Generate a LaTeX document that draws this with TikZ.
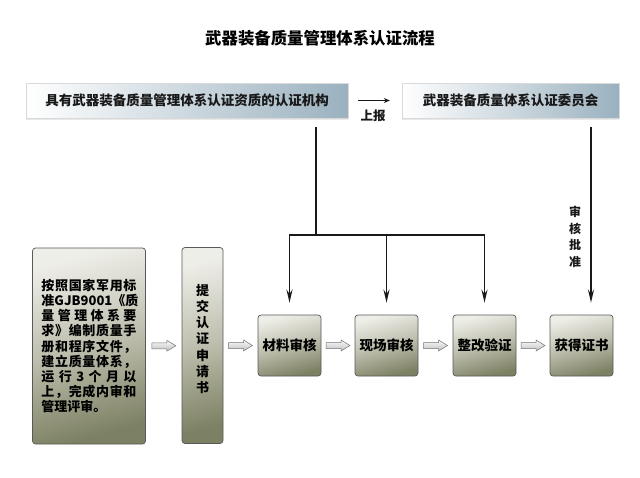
\documentclass[tikz,border=0pt]{standalone}
\usepackage{fontspec}
\setmainfont{Noto Sans CJK SC}
\usetikzlibrary{arrows.meta,calc,shadows}

\definecolor{steel}{HTML}{9AB1BF}
\definecolor{olivelight}{HTML}{EEEEE8}
\definecolor{olivemid}{HTML}{BDBEAD}
\definecolor{olivedark}{HTML}{7D8163}

\tikzset{
  topbox/.style={rectangle, left color=white, right color=steel, draw=gray!30, line width=0.4pt,
    minimum height=35pt, inner sep=0pt, font=\bfseries\fontsize{13.5}{16}\selectfont, text=black!90,
    drop shadow={opacity=0.18, shadow xshift=0pt, shadow yshift=-2pt}},
  stagebox/.style={rectangle, rounded corners=3pt, draw=black!65, line width=0.7pt,
    top color=olivelight, bottom color=olivedark, middle color=olivemid, shading angle=15, inner sep=0pt,
    font=\bfseries\fontsize{13.5}{15}\selectfont, text=black},
  fatpath/.style={draw=black!55, line width=0.5pt, top color=gray!3, bottom color=gray!50},
  conn/.style={line width=1.8pt, draw=black!90},
  arr/.style={conn, -{Stealth[length=13pt, width=6pt]}},
  lbl/.style={font=\bfseries\fontsize{12.5}{16.5}\selectfont, text=black!90, inner sep=0pt, align=center},
}
\newcommand\fatarrowat[1]{%
  \path[fatpath] ($(#1)+(-12,-3)$) -- ($(#1)+(3,-3)$) -- ($(#1)+(3,-5.5)$) -- ($(#1)+(12,0)$)
    -- ($(#1)+(3,5.5)$) -- ($(#1)+(3,3)$) -- ($(#1)+(-12,3)$) -- cycle;}

\begin{document}
\begin{tikzpicture}[x=1pt, y=-1pt]
\useasboundingbox[fill=white] (0,0) rectangle (640,477);

% title
\node[font=\bfseries\fontsize{16.4}{18}\selectfont, text=black] (title) at (320,38) {武器装备质量管理体系认证流程};

% top boxes
\node[topbox, minimum width=322pt] (topL) at (187,100.5) {具有武器装备质量管理体系认证资质的认证机构};
\node[topbox, minimum width=217pt] (topR) at (510.5,100.5) {武器装备质量体系认证委员会};

\draw[conn, line width=1.5pt, -{Stealth[length=6pt, width=5pt]}, shorten <=10pt, shorten >=12pt] (topL) -- (topR);
\node[lbl] (up) at (373,116) {上报};

% left boxes
\node[stagebox, minimum width=113pt, minimum height=196pt, font=\bfseries\fontsize{13}{15}\selectfont] (L) at (89,346) {%
  \vbox{\baselineskip=15.2pt
  \hbox to 95pt{按\hfill 照\hfill 国\hfill 家\hfill 军\hfill 用\hfill 标}
  \hbox to 95pt{准GJB9001\hfill 《质}
  \hbox to 95pt{量\hfill 管\hfill 理\hfill 体\hfill 系\hfill 要}
  \hbox to 95pt{求\hfill 》\hfill 编\hfill 制\hfill 质\hfill 量\hfill 手}
  \hbox to 95pt{册\hfill 和\hfill 程\hfill 序\hfill 文\hfill 件\hfill ，}
  \hbox to 95pt{建\hfill 立\hfill 质\hfill 量\hfill 体\hfill 系\hfill ，}
  \hbox to 95pt{运\hfill 行\hfill 3\hfill 个\hfill 月\hfill 以}
  \hbox to 95pt{上\hfill ，\hfill 完\hfill 成\hfill 内\hfill 审\hfill 和}
  \hbox to 95pt{管理评审。\hfill}}};
\node[stagebox, minimum width=41pt, minimum height=196pt] (S) at (202.5,345.5) {};
\node[lbl, font=\bfseries\fontsize{13}{16.2}\selectfont, text=black] (Stext) at (202.5,339) {提\\交\\认\\证\\申\\请\\书};

% stage boxes
\node[stagebox, minimum width=63pt, minimum height=61pt] (b1) at (289.5,345.5) {材料审核};
\node[stagebox, minimum width=63pt, minimum height=61pt] (b2) at (386.5,345.5) {现场审核};
\node[stagebox, minimum width=63pt, minimum height=61pt] (b3) at (484.5,345.5) {整改验证};
\node[stagebox, minimum width=63pt, minimum height=61pt] (b4) at (581.5,345.5) {获得证书};

% fat arrows between the stages
\coordinate (f1) at ($(L.east)!0.5!(S.west)$);
\coordinate (f2) at ($(S.east)!0.5!(b1.west)$);
\coordinate (f3) at ($(b1.east)!0.5!(b2.west)$);
\coordinate (f4) at ($(b2.east)!0.5!(b3.west)$);
\coordinate (f5) at ($(b3.east)!0.5!(b4.west)$);
\fatarrowat{f1}
\fatarrowat{f2}
\fatarrowat{f3}
\fatarrowat{f4}
\fatarrowat{f5}

% connectors from the certification body
\coordinate (j) at (316,235);
\draw[conn, shorten <=9pt] (topL.south -| j) -- (j);
\draw[conn, line cap=rect] (j -| b1) -- (j -| b3);
\draw[arr, shorten >=12pt] (j -| b1) -- (b1.north);
\draw[arr, shorten >=12pt] (j -| b2) -- (b2.north);
\draw[arr, shorten >=12pt] (j -| b3) -- (b3.north);

% approval line
\coordinate (k) at (591,235);
\draw[arr, shorten <=9pt, shorten >=12pt] (topR.south -| k) -- (b4.north -| k);
\node[lbl, font=\bfseries\fontsize{12}{16.5}\selectfont] (appr) at (575,237) {审\\核\\批\\准};

\end{tikzpicture}
\end{document}
